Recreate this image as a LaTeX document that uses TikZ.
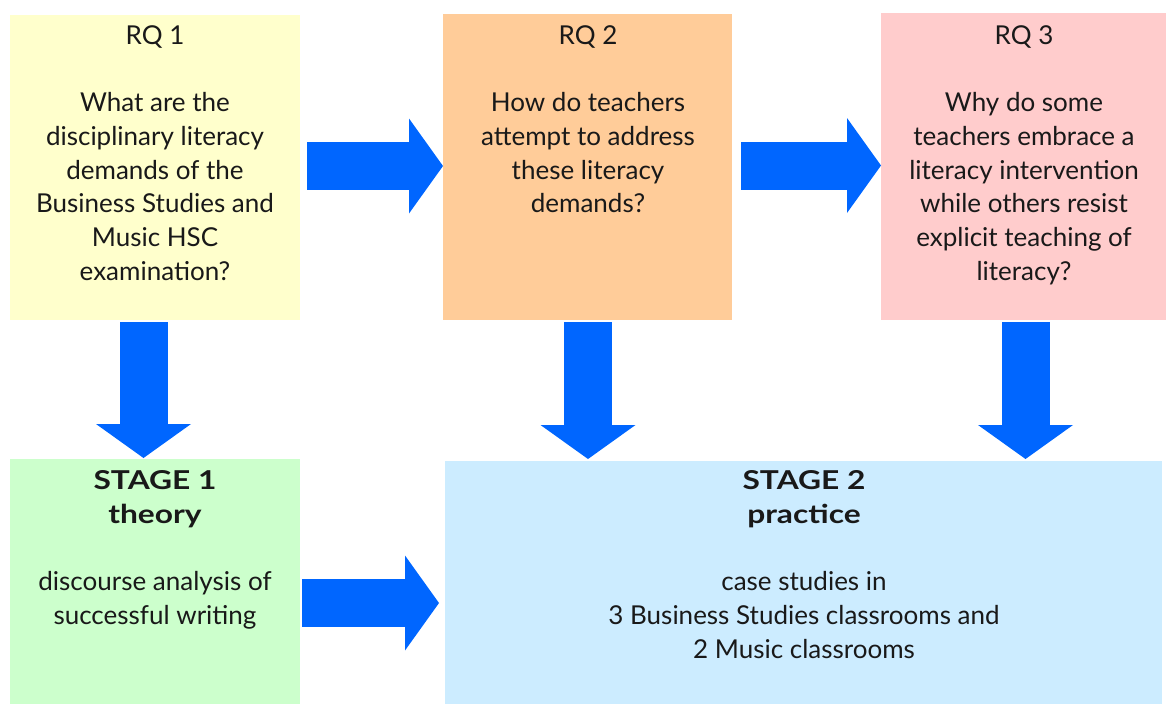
\documentclass[tikz,border=0pt]{standalone}
\usepackage{fontspec}
\setmainfont{Lato}
\usetikzlibrary{arrows.meta}
\definecolor{cyellow}{HTML}{FFFFCC}
\definecolor{corange}{HTML}{FFCC99}
\definecolor{cpink}{HTML}{FFCCCC}
\definecolor{cgreen}{HTML}{CCFFCC}
\definecolor{cblue}{HTML}{CCECFF}
\definecolor{arrowblue}{HTML}{0066FF}
\newcommand{\stagehead}[1]{\scalebox{1.22}[1]{\textbf{#1}}}
\tikzset{
  box/.style={rectangle, draw=none, inner sep=0pt, outer sep=0pt, anchor=north west},
  txt/.style={anchor=north, inner sep=0pt, align=center, text=black!90,
    font=\fontsize{26}{33.7}\selectfont},
  bigarrow/.style={draw=arrowblue, line width=48pt,
    -{Triangle[length=34pt,width=95pt,line width=0pt]}},
}
\begin{document}
\begin{tikzpicture}[x=1pt,y=-1pt]
\useasboundingbox (0,0) rectangle (1166,704);
% boxes
\node[box, fill=cyellow, minimum width=290pt, minimum height=305pt] (rq1) at (10,15) {};
\node[box, fill=corange, minimum width=289pt, minimum height=306pt] (rq2) at (443,14) {};
\node[box, fill=cpink,   minimum width=285pt, minimum height=307pt] (rq3) at (881,13) {};
\node[box, fill=cgreen,  minimum width=290pt, minimum height=245pt] (s1) at (10,459) {};
\node[box, fill=cblue,   minimum width=717pt, minimum height=243pt] (s2) at (445,461) {};
% texts
\node[txt] (rq1t) at (155,25.4) {RQ 1\\[33.7pt]What are the\\disciplinary literacy\\demands of the\\Business Studies and\\Music HSC\\examination?};
\node[txt] (rq2t) at (588,25.4) {RQ 2\\[33.7pt]How do teachers\\attempt to address\\these literacy\\demands?};
\node[txt] (rq3t) at (1024,25.4) {RQ 3\\[33.7pt]Why do some\\teachers embrace a\\literacy intervention\\while others resist\\explicit teaching of\\literacy?};
\node[txt] (s1t) at (155,470.4) {\stagehead{STAGE 1}\\\stagehead{theory}\\[33.7pt]discourse analysis of\\successful writing};
\node[txt] (s2t) at (804,470.4) {\stagehead{STAGE 2}\\\stagehead{practice}\\[33.7pt]case studies in\\3 Business Studies classrooms and\\2 Music classrooms};
% arrows
\coordinate (a1s) at ([yshift=1.5pt]rq1.east);
\draw[bigarrow, shorten <=7pt] (a1s) -- (a1s -| rq2.west);
\coordinate (a2s) at ([yshift=1.5pt]rq2.east);
\draw[bigarrow, shorten <=9pt] (a2s) -- (a2s -| rq3.west);
\coordinate (d1s) at ([xshift=-11.5pt]rq1.south);
\draw[bigarrow, shorten <=2pt, shorten >=1pt] (d1s) -- (d1s |- s1.north);
\coordinate (d2s) at ([xshift=0.5pt]rq2.south);
\draw[bigarrow, shorten <=2pt, shorten >=2pt] (d2s) -- (d2s |- s2.north);
\coordinate (d3s) at ([xshift=2pt]rq3.south);
\draw[bigarrow, shorten <=2pt, shorten >=2pt] (d3s) -- (d3s |- s2.north);
\coordinate (a5s) at ([yshift=-21.5pt]s1.east);
\draw[bigarrow, shorten <=2pt, shorten >=6pt] (a5s) -- (a5s -| s2.west);
\end{tikzpicture}
\end{document}
